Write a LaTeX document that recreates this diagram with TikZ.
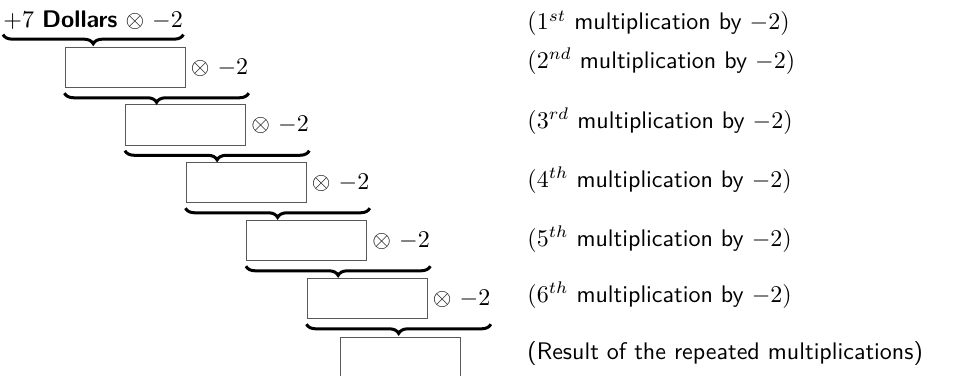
\documentclass[tikz,border=0pt,10pt]{standalone}
\usepackage{amssymb}
\usepackage{amsmath}
\usetikzlibrary{decorations.pathreplacing}
\tikzset{
  numbox/.style={draw=black!65, line width=0.5pt, minimum width=50pt, minimum height=16.67pt, inner sep=0pt},
  times/.style={anchor=west, inner sep=0pt, xshift=2pt},
  note/.style={anchor=base west, inner sep=0pt},
  underbrace/.style={decorate, decoration={brace, mirror, amplitude=4.6pt}, line width=1.5pt}
}

\begin{document}
\begin{tikzpicture}[scale=1.2, every node/.append style={transform shape}, x=0.416667pt, y=-0.416667pt, font=\sffamily]
\useasboundingbox (0,0) rectangle (964,375);
\node[anchor=base west, inner sep=0pt] (start) at (3,28) {$+7$ \textbf{Dollars} $\otimes$ $-2$};
\node[numbox] (b1) at (125,67.5) {};
\node[times] (m1) at (b1.east) {$\otimes$ $-2$};
\node[numbox] (b2) at (185.5,125) {};
\node[times] (m2) at (b2.east) {$\otimes$ $-2$};
\node[numbox] (b3) at (246,182.5) {};
\node[times] (m3) at (b3.east) {$\otimes$ $-2$};
\node[numbox] (b4) at (306.5,240.5) {};
\node[times] (m4) at (b4.east) {$\otimes$ $-2$};
\node[numbox] (b5) at (367,298.5) {};
\node[times] (m5) at (b5.east) {$\otimes$ $-2$};
\node[numbox] (b6) at (400,357.5) {};
\draw[underbrace] ([yshift=-1.7pt]start.south west) -- ([yshift=-1.7pt]start.south east);
\draw[underbrace] ([yshift=-2.1pt]b1.south west) -- ([yshift=-2.1pt]b1.south west -| m1.east);
\draw[underbrace] ([yshift=-2.1pt]b2.south west) -- ([yshift=-2.1pt]b2.south west -| m2.east);
\draw[underbrace] ([yshift=-2.1pt]b3.south west) -- ([yshift=-2.1pt]b3.south west -| m3.east);
\draw[underbrace] ([yshift=-2.1pt]b4.south west) -- ([yshift=-2.1pt]b4.south west -| m4.east);
\draw[underbrace] ([yshift=-2.1pt]b5.south west) -- ([yshift=-2.1pt]b5.south west -| m5.east);
\node[note] (n1) at (527,30) {$(1^{st}$ multiplication by $-2)$};
\node[note] (n2) at (527,68.5) {$(2^{nd}$ multiplication by $-2)$};
\node[note] (n3) at (527,128.5) {$(3^{rd}$ multiplication by $-2)$};
\node[note] (n4) at (527,187.5) {$(4^{th}$ multiplication by $-2)$};
\node[note] (n5) at (527,246) {$(5^{th}$ multiplication by $-2)$};
\node[note] (n6) at (527,302.5) {$(6^{th}$ multiplication by $-2)$};
\node[note] (n7) at (527,359.5) {(Result of the repeated multiplications)};
\end{tikzpicture}
\end{document}
